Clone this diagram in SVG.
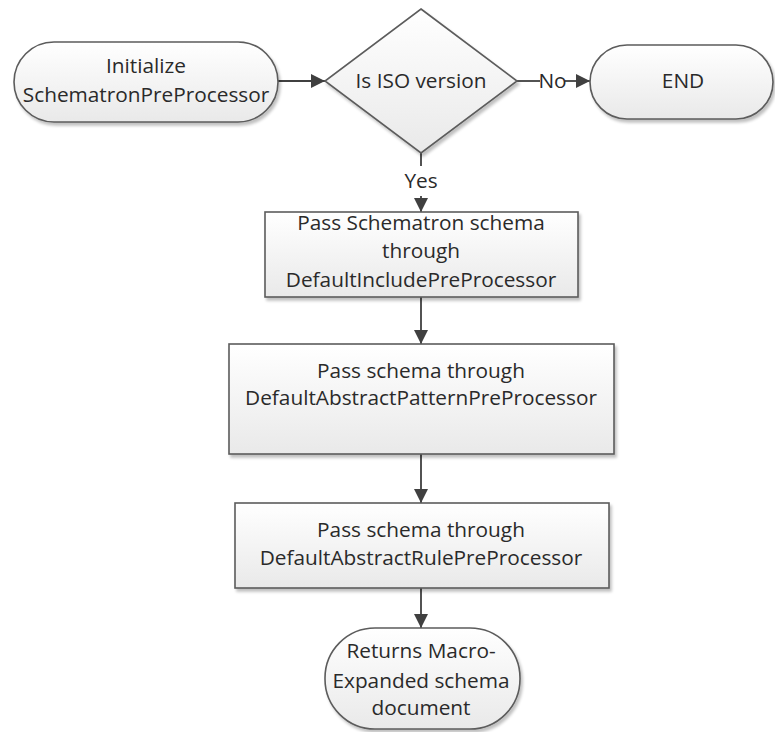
<svg xmlns="http://www.w3.org/2000/svg" width="775" height="732" viewBox="0 0 775 732">
  <style>
    .shape { fill: url(#fillGrad); stroke: #5c5c5c; stroke-width: 1.6; filter: url(#shadow); }
    .label { font-family: "Open Sans", "Noto Sans", "Liberation Sans", sans-serif; font-size: 20.8px; fill: #2a2a2a; text-anchor: middle; }
    .edge { stroke: #404040; stroke-width: 1.8; fill: none; }
    .edgeLabel { font-family: "Open Sans", "Noto Sans", "Liberation Sans", sans-serif; font-size: 20.8px; fill: #2a2a2a; text-anchor: middle; }
  </style>
  <defs>
    <linearGradient id="fillGrad" x1="0" y1="0" x2="0" y2="1">
      <stop offset="0" stop-color="#ffffff"/>
      <stop offset="1" stop-color="#e9e9e9"/>
    </linearGradient>
    <filter id="shadow" x="-10%" y="-10%" width="125%" height="130%">
      <feGaussianBlur in="SourceAlpha" stdDeviation="1.5"/>
      <feOffset dx="2" dy="3" result="off"/>
      <feComponentTransfer><feFuncA type="linear" slope="0.25"/></feComponentTransfer>
      <feMerge><feMergeNode/><feMergeNode in="SourceGraphic"/></feMerge>
    </filter>
    <marker id="arrow" viewBox="0 0 14 14" refX="14" refY="7" markerWidth="14" markerHeight="14" markerUnits="userSpaceOnUse" orient="auto">
      <path d="M0,0 L14,7 L0,14 z" fill="#404040"/>
    </marker>
  </defs>

  <g id="connectors">
    <line class="edge" x1="278" y1="81" x2="325" y2="81" marker-end="url(#arrow)"/>
    <line class="edge" x1="517" y1="81" x2="540" y2="81"/>
    <line class="edge" x1="565" y1="81" x2="590" y2="81" marker-end="url(#arrow)"/>
    <text class="edgeLabel" x="552.5" y="88">No</text>
    <line class="edge" x1="421" y1="153" x2="421" y2="166"/>
    <line class="edge" x1="421" y1="196" x2="421" y2="212" marker-end="url(#arrow)"/>
    <text class="edgeLabel" x="421" y="188">Yes</text>
    <line class="edge" x1="421" y1="297" x2="421" y2="344" marker-end="url(#arrow)"/>
    <line class="edge" x1="421" y1="454" x2="421" y2="503" marker-end="url(#arrow)"/>
    <line class="edge" x1="421" y1="588" x2="421" y2="628" marker-end="url(#arrow)"/>
  </g>

  <g id="init">
    <rect class="shape" x="14" y="42" width="264" height="80" rx="40" ry="40"/>
    <text class="label" x="146" y="73">Initialize</text>
    <text class="label" x="146" y="102">SchematronPreProcessor</text>
  </g>

  <g id="isIso">
    <polygon class="shape" points="421,9 517,81 421,153 325,81"/>
    <text class="label" x="421" y="88">Is ISO version</text>
  </g>

  <g id="end">
    <rect class="shape" x="590" y="45" width="183" height="74" rx="37" ry="37"/>
    <text class="label" x="683" y="88">END</text>
  </g>

  <g id="includeStep">
    <rect class="shape" x="265" y="212" width="313" height="85"/>
    <text class="label" x="421" y="230">Pass Schematron schema</text>
    <text class="label" x="421" y="258">through</text>
    <text class="label" x="421" y="287">DefaultIncludePreProcessor</text>
  </g>

  <g id="patternStep">
    <rect class="shape" x="229" y="344" width="385" height="110"/>
    <text class="label" x="421" y="378">Pass schema through</text>
    <text class="label" x="421" y="405">DefaultAbstractPatternPreProcessor</text>
  </g>

  <g id="ruleStep">
    <rect class="shape" x="235" y="503" width="374" height="85"/>
    <text class="label" x="421" y="537">Pass schema through</text>
    <text class="label" x="421" y="565">DefaultAbstractRulePreProcessor</text>
  </g>

  <g id="result">
    <rect class="shape" x="325" y="628" width="195" height="101" rx="50" ry="50"/>
    <text class="label" x="421" y="658">Returns Macro-</text>
    <text class="label" x="421" y="688">Expanded schema</text>
    <text class="label" x="421" y="715">document</text>
  </g>
</svg>
